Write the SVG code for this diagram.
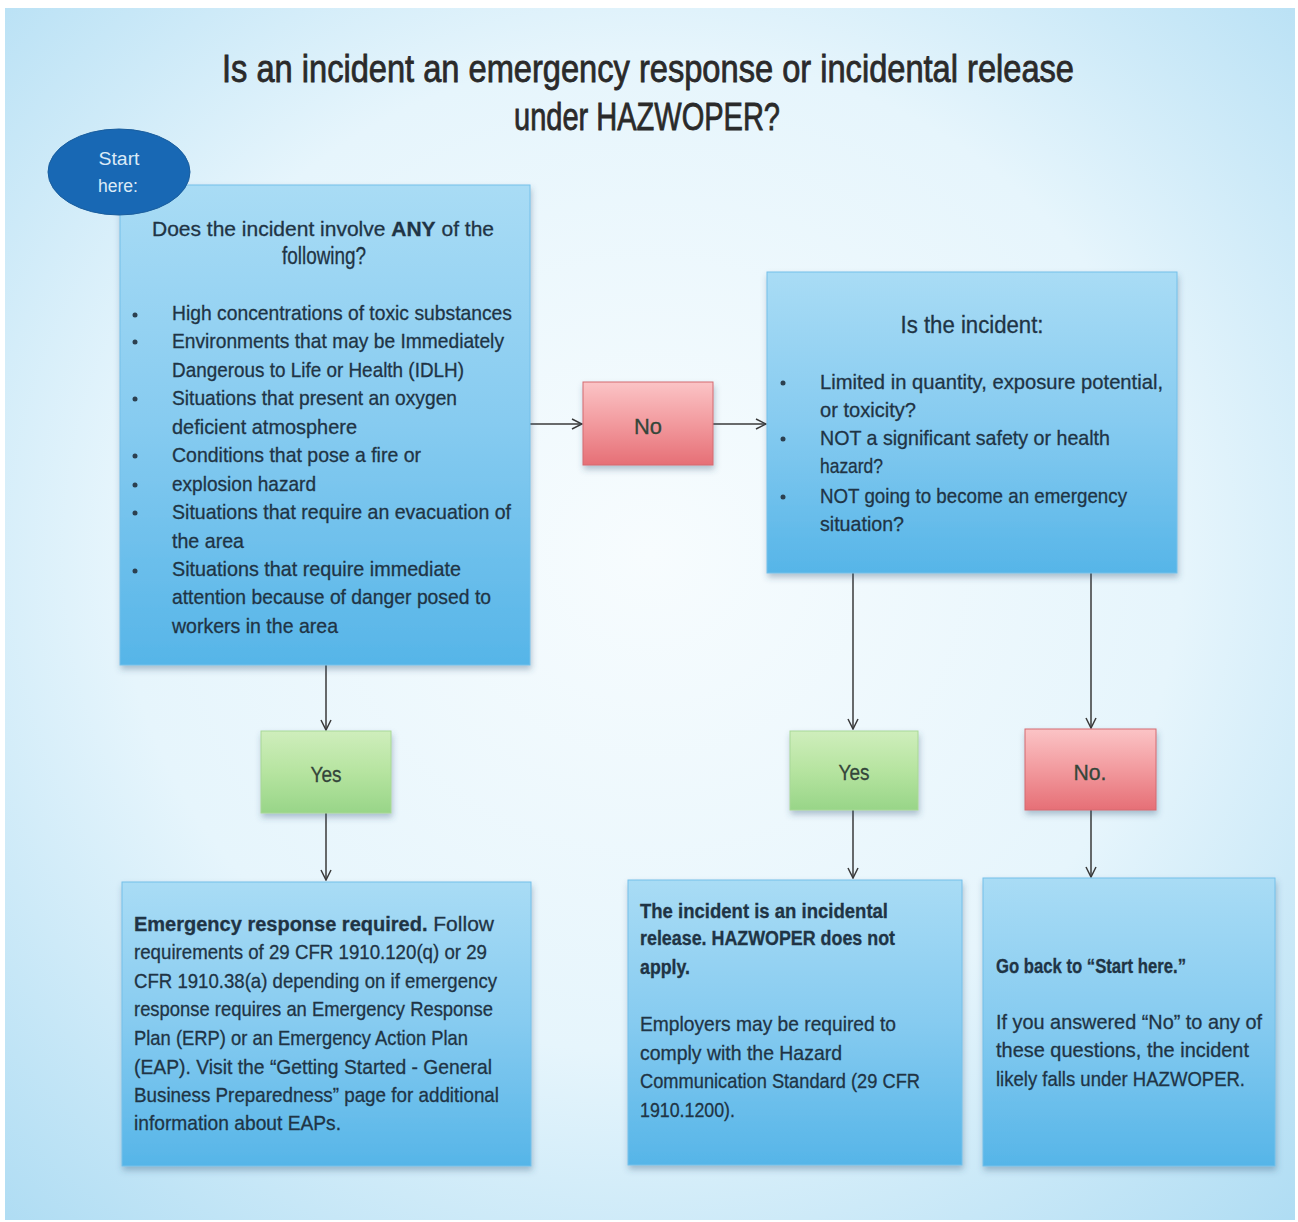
<svg xmlns="http://www.w3.org/2000/svg" width="1298" height="1222" viewBox="0 0 1298 1222">
<defs>
<radialGradient id="bg" cx="0.5" cy="0.45" r="0.75">
<stop offset="0" stop-color="#f7fcfe"/>
<stop offset="0.55" stop-color="#e6f5fc"/>
<stop offset="1" stop-color="#aedcf3"/>
</radialGradient>
<linearGradient id="blue" x1="0" y1="0" x2="0" y2="1">
<stop offset="0" stop-color="#a9dcf5"/>
<stop offset="0.5" stop-color="#86cbf0"/>
<stop offset="1" stop-color="#56b5e8"/>
</linearGradient>
<linearGradient id="green" x1="0" y1="0" x2="0" y2="1">
<stop offset="0" stop-color="#cfeebc"/>
<stop offset="0.5" stop-color="#b6e4a0"/>
<stop offset="1" stop-color="#98d588"/>
</linearGradient>
<linearGradient id="red" x1="0" y1="0" x2="0" y2="1">
<stop offset="0" stop-color="#fbc4c6"/>
<stop offset="0.5" stop-color="#f29a9e"/>
<stop offset="1" stop-color="#e66f76"/>
</linearGradient>
<filter id="sh" x="-10%" y="-10%" width="125%" height="130%">
<feDropShadow dx="1" dy="4" stdDeviation="3" flood-color="#335577" flood-opacity="0.35"/>
</filter>
<marker id="arr" viewBox="0 0 12 12" refX="11" refY="6" markerWidth="12" markerHeight="12" markerUnits="userSpaceOnUse" orient="auto">
<path d="M1,1 L11,6 L1,11" fill="none" stroke="#3a3a3a" stroke-width="1.5"/>
</marker>
<style>
.box{fill:url(#blue);stroke:#74c0ea;stroke-width:1;filter:url(#sh)}
.yes{fill:url(#green);stroke:#a8d897;stroke-width:1;filter:url(#sh)}
.no{fill:url(#red);stroke:#d46a70;stroke-width:1;filter:url(#sh)}
.t{font-family:"Liberation Sans","Open Sans",sans-serif;font-size:21px;fill:#1f3445;stroke:#1f3445;stroke-width:0.3}
.b{font-weight:bold;font-size:20px}
.h{font-size:23px}
.lbl{font-family:"Liberation Sans","Open Sans",sans-serif;font-size:22px;fill:#34463a;stroke:#34463a;stroke-width:0.3;text-anchor:middle}
.title{font-family:"Liberation Sans","Open Sans",sans-serif;font-size:38px;fill:#2a2a2a;stroke:#2a2a2a;stroke-width:0.8;text-anchor:middle}
.dot{fill:#2c4050}
.conn line{stroke:#3a3a3a;stroke-width:1.5;marker-end:url(#arr)}
</style>
</defs>
<rect x="0" y="0" width="1298" height="1222" fill="#ffffff"/>
<rect x="5" y="8" width="1290" height="1212" fill="url(#bg)"/>

<g id="title">
<text class="title" x="648" y="82" textLength="852" lengthAdjust="spacingAndGlyphs">Is an incident an emergency response or incidental release</text>
<text class="title" x="647" y="130" textLength="266" lengthAdjust="spacingAndGlyphs">under HAZWOPER?</text>
</g>

<g id="connectors" class="conn">
<line x1="530" y1="424" x2="582" y2="424"/>
<line x1="713" y1="424" x2="766" y2="424"/>
<line x1="326" y1="665" x2="326" y2="730"/>
<line x1="326" y1="813" x2="326" y2="880"/>
<line x1="853" y1="573" x2="853" y2="729"/>
<line x1="1091" y1="573" x2="1091" y2="728"/>
<line x1="853" y1="810" x2="853" y2="878"/>
<line x1="1091" y1="810" x2="1091" y2="877"/>
</g>

<g id="q1">
<rect class="box" x="120" y="185" width="410" height="480"/>
<text class="t" x="323" y="236" text-anchor="middle">Does the incident involve <tspan font-weight="bold">ANY</tspan> of the</text>
<text class="t h" x="324" y="264" text-anchor="middle" textLength="84" lengthAdjust="spacingAndGlyphs">following?</text>
<circle class="dot" cx="135" cy="315" r="2.5"/>
<circle class="dot" cx="135" cy="342" r="2.5"/>
<circle class="dot" cx="135" cy="399" r="2.5"/>
<circle class="dot" cx="135" cy="456" r="2.5"/>
<circle class="dot" cx="135" cy="485" r="2.5"/>
<circle class="dot" cx="135" cy="513" r="2.5"/>
<circle class="dot" cx="135" cy="571" r="2.5"/>
<text class="t" x="172" y="320" textLength="340" lengthAdjust="spacingAndGlyphs">High concentrations of toxic substances</text>
<text class="t" x="172" y="348" textLength="332" lengthAdjust="spacingAndGlyphs">Environments that may be Immediately</text>
<text class="t" x="172" y="377" textLength="292" lengthAdjust="spacingAndGlyphs">Dangerous to Life or Health (IDLH)</text>
<text class="t" x="172" y="405" textLength="285" lengthAdjust="spacingAndGlyphs">Situations that present an oxygen</text>
<text class="t" x="172" y="434" textLength="185" lengthAdjust="spacingAndGlyphs">deficient atmosphere</text>
<text class="t" x="172" y="462" textLength="249" lengthAdjust="spacingAndGlyphs">Conditions that pose a fire or</text>
<text class="t" x="172" y="491" textLength="144" lengthAdjust="spacingAndGlyphs">explosion hazard</text>
<text class="t" x="172" y="519" textLength="339" lengthAdjust="spacingAndGlyphs">Situations that require an evacuation of</text>
<text class="t" x="172" y="548" textLength="72" lengthAdjust="spacingAndGlyphs">the area</text>
<text class="t" x="172" y="576" textLength="289" lengthAdjust="spacingAndGlyphs">Situations that require immediate</text>
<text class="t" x="172" y="604" textLength="319" lengthAdjust="spacingAndGlyphs">attention because of danger posed to</text>
<text class="t" x="172" y="633" textLength="166" lengthAdjust="spacingAndGlyphs">workers in the area</text>
</g>

<g id="start">
<ellipse cx="119" cy="172" rx="71" ry="43" fill="#1868b4" stroke="#1a5e9e" stroke-width="1"/>
<text x="119" y="165" font-family="'Liberation Sans','Open Sans',sans-serif" font-size="18" fill="#dbeaf7" text-anchor="middle" textLength="41" lengthAdjust="spacingAndGlyphs">Start</text>
<text x="118" y="192" font-family="'Liberation Sans','Open Sans',sans-serif" font-size="18" fill="#dbeaf7" text-anchor="middle" textLength="40" lengthAdjust="spacingAndGlyphs">here:</text>
</g>

<g id="no1">
<rect class="no" x="583" y="382" width="130" height="83"/>
<text class="lbl" x="648" y="434" textLength="28" lengthAdjust="spacingAndGlyphs">No</text>
</g>

<g id="q2">
<rect class="box" x="767" y="272" width="410" height="301"/>
<text class="t h" x="972" y="333" text-anchor="middle" textLength="143" lengthAdjust="spacingAndGlyphs">Is the incident:</text>
<circle class="dot" cx="783" cy="383" r="2.5"/>
<circle class="dot" cx="783" cy="439" r="2.5"/>
<circle class="dot" cx="783" cy="497" r="2.5"/>
<text class="t" x="820" y="389" textLength="343" lengthAdjust="spacingAndGlyphs">Limited in quantity, exposure potential,</text>
<text class="t" x="820" y="417" textLength="96" lengthAdjust="spacingAndGlyphs">or toxicity?</text>
<text class="t" x="820" y="445" textLength="290" lengthAdjust="spacingAndGlyphs">NOT a significant safety or health</text>
<text class="t" x="820" y="473" textLength="63" lengthAdjust="spacingAndGlyphs">hazard?</text>
<text class="t" x="820" y="503" textLength="307" lengthAdjust="spacingAndGlyphs">NOT going to become an emergency</text>
<text class="t" x="820" y="531" textLength="84" lengthAdjust="spacingAndGlyphs">situation?</text>
</g>

<g id="yes1">
<rect class="yes" x="261" y="731" width="130" height="82"/>
<text class="lbl" x="326" y="782" textLength="31" lengthAdjust="spacingAndGlyphs">Yes</text>
</g>

<g id="yes2">
<rect class="yes" x="790" y="731" width="128" height="79"/>
<text class="lbl" x="854" y="780" textLength="31" lengthAdjust="spacingAndGlyphs">Yes</text>
</g>

<g id="no2">
<rect class="no" x="1025" y="729" width="131" height="81"/>
<text class="lbl" x="1090" y="780" textLength="33" lengthAdjust="spacingAndGlyphs">No.</text>
</g>

<g id="r1">
<rect class="box" x="122" y="882" width="409" height="284"/>
<text class="t" x="134" y="931"><tspan font-weight="bold" font-size="20">Emergency response required.</tspan>  Follow</text>
<text class="t" x="134" y="959" textLength="353" lengthAdjust="spacingAndGlyphs">requirements of 29 CFR 1910.120(q) or 29</text>
<text class="t" x="134" y="988" textLength="363" lengthAdjust="spacingAndGlyphs">CFR 1910.38(a) depending on if emergency</text>
<text class="t" x="134" y="1016" textLength="359" lengthAdjust="spacingAndGlyphs">response requires an Emergency Response</text>
<text class="t" x="134" y="1045" textLength="334" lengthAdjust="spacingAndGlyphs">Plan (ERP) or an Emergency Action Plan</text>
<text class="t" x="134" y="1074" textLength="358" lengthAdjust="spacingAndGlyphs">(EAP). Visit the “Getting Started - General</text>
<text class="t" x="134" y="1102" textLength="365" lengthAdjust="spacingAndGlyphs">Business Preparedness” page for additional</text>
<text class="t" x="134" y="1130" textLength="207" lengthAdjust="spacingAndGlyphs">information about EAPs.</text>
</g>

<g id="r2">
<rect class="box" x="628" y="880" width="334" height="285"/>
<text class="t b" x="640" y="918" textLength="248" lengthAdjust="spacingAndGlyphs">The incident is an incidental</text>
<text class="t b" x="640" y="945" textLength="255" lengthAdjust="spacingAndGlyphs">release. HAZWOPER does not</text>
<text class="t b" x="640" y="974" textLength="50" lengthAdjust="spacingAndGlyphs">apply.</text>
<text class="t" x="640" y="1031" textLength="256" lengthAdjust="spacingAndGlyphs">Employers may be required to</text>
<text class="t" x="640" y="1060" textLength="202" lengthAdjust="spacingAndGlyphs">comply with the Hazard</text>
<text class="t" x="640" y="1088" textLength="280" lengthAdjust="spacingAndGlyphs">Communication Standard (29 CFR</text>
<text class="t" x="640" y="1117" textLength="95" lengthAdjust="spacingAndGlyphs">1910.1200).</text>
</g>

<g id="r3">
<rect class="box" x="983" y="878" width="292" height="288"/>
<text class="t b" x="996" y="973" textLength="190" lengthAdjust="spacingAndGlyphs">Go back to “Start here.”</text>
<text class="t" x="996" y="1029" textLength="266" lengthAdjust="spacingAndGlyphs">If you answered “No” to any of</text>
<text class="t" x="996" y="1057" textLength="253" lengthAdjust="spacingAndGlyphs">these questions, the incident</text>
<text class="t" x="996" y="1086" textLength="249" lengthAdjust="spacingAndGlyphs">likely falls under HAZWOPER.</text>
</g>
</svg>
